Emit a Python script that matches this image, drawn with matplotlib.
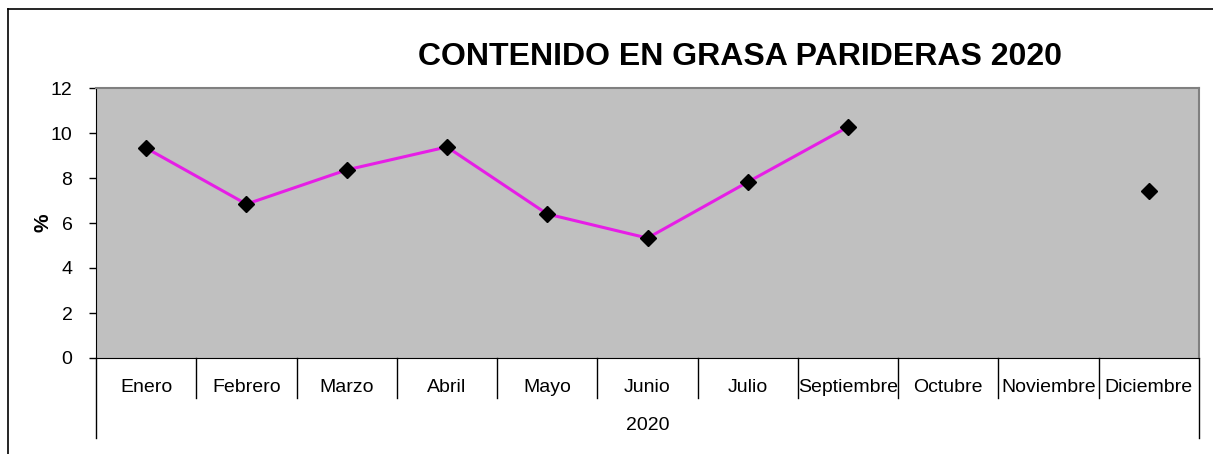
import numpy as np
import matplotlib.pyplot as plt
from matplotlib.lines import Line2D

plt.rcParams['font.family'] = ['Liberation Sans', 'DejaVu Sans']

# Data
meses = ["Enero", "Febrero", "Marzo", "Abril", "Mayo", "Junio", "Julio",
         "Septiembre", "Octubre", "Noviembre", "Diciembre"]
grasa = [9.33, 6.84, 8.36, 9.38, 6.4, 5.33, 7.82, 10.27, np.nan, np.nan, 7.42]
anio = "2020"
yticks = [0, 2, 4, 6, 8, 10, 12]

fig = plt.figure(figsize=(12.13, 4.54), dpi=100)
ax = fig.add_axes([96 / 1213, 96 / 454, (1199 - 96) / 1213, (358 - 88) / 454])
ax.set_facecolor('#c0c0c0')

x = np.arange(len(meses))
ax.plot(x, grasa, color='#e61ee6', lw=2.2, marker='D', markersize=8,
        markerfacecolor='black', markeredgecolor='black', zorder=3)

ax.set_xlim(-0.5, len(meses) - 0.5)
ax.set_ylim(0, 12)
ax.set_yticks(yticks)
ax.tick_params(axis='y', labelsize=14, length=5, direction='out', width=1, pad=12)
ax.set_xticks(x)
ax.set_xticklabels(meses, fontsize=14)
ax.tick_params(axis='x', length=0, pad=15)

ax.spines['top'].set_color('#808080')
ax.spines['right'].set_color('#808080')
ax.spines['top'].set_linewidth(1.5)
ax.spines['right'].set_linewidth(1.5)

# category separators below axis
trans = ax.get_xaxis_transform()
for b in np.arange(-0.5, len(meses), 1.0):
    if b in (-0.5, len(meses) - 0.5):
        ax.plot([b, b], [0, -80 / 270], color='black', lw=1, transform=trans, clip_on=False)
    else:
        ax.plot([b, b], [0, -40 / 270], color='black', lw=1, transform=trans, clip_on=False)
ax.text((len(meses) - 1) / 2, -67 / 270, anio, transform=trans, ha='center', va='center', fontsize=14)

ax.set_ylabel('%', fontsize=15, fontweight='bold')
ax.yaxis.set_label_coords((53 - 96) / 1103, 0.5)
fig.text(740 / 1213, 1 - 57 / 454, 'CONTENIDO EN GRASA PARIDERAS 2020',
         ha='center', va='center', fontsize=23, fontweight='bold')

# outer border (top and left)
fig.add_artist(Line2D([8 / 1213, 1], [1 - 9 / 454, 1 - 9 / 454], color='black', lw=1.2))
fig.add_artist(Line2D([8 / 1213, 8 / 1213], [0, 1 - 9 / 454], color='black', lw=1.2))

fig.savefig('out.png', dpi=100)
